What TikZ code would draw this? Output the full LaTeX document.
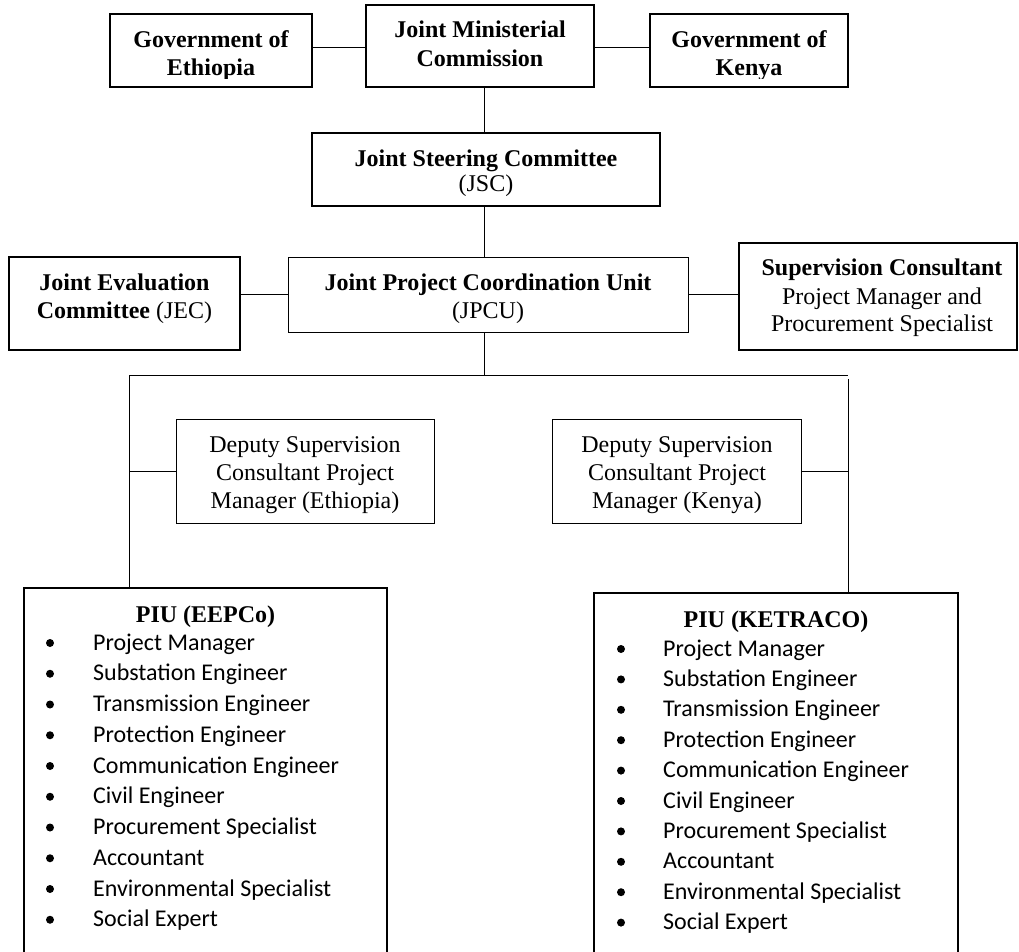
\documentclass[tikz,border=0pt]{standalone}
\usepackage{fontspec}
\setmainfont{Liberation Serif}
\newfontfamily\itemfont{Carlito}
\begin{document}
\begin{tikzpicture}[x=1pt,y=-1pt,
  thickbox/.style={draw, line width=2.4pt, inner sep=0pt, outer sep=0pt},
  thinbox/.style={draw, line width=1pt, inner sep=0pt, outer sep=0pt},
  conn/.style={line width=1pt},
  txt/.style={inner sep=0pt, anchor=base, font=\fontsize{24}{27.6}\selectfont},
  btxt/.style={inner sep=0pt, anchor=base, font=\fontsize{24}{27.6}\selectfont\bfseries},
  itemtxt/.style={inner sep=0pt, anchor=base west, font=\itemfont\fontsize{24}{29}\selectfont},
  bul/.style={circle, fill=black, inner sep=0pt, minimum size=8pt},
]
\useasboundingbox (0,0) rectangle (1019,952);
\clip (0,0) rectangle (1019,952);

% boxes
\node[thickbox, minimum width=202pt, minimum height=73pt] (govE) at (211,50.5) {};
\node[thickbox, minimum width=228pt, minimum height=82pt] (jmc) at (480,46) {};
\node[thickbox, minimum width=198pt, minimum height=73pt] (govK) at (749,50.5) {};
\node[thickbox, minimum width=348pt, minimum height=73pt] (jsc) at (486,169.5) {};
\node[thinbox, minimum width=400pt, minimum height=75pt] (jpcu) at (488,294.5) {};
\node[thickbox, minimum width=231pt, minimum height=93pt] (jec) at (124.5,303.5) {};
\node[thickbox, minimum width=278pt, minimum height=107pt] (sc) at (878,296.5) {};
\node[thinbox, minimum width=258pt, minimum height=104pt] (depE) at (305,471) {};
\node[thinbox, minimum width=249pt, minimum height=104pt] (depK) at (676.5,471) {};
\node[thickbox, minimum width=363pt, minimum height=366pt] (piuE) at (205.5,771) {};
\node[thickbox, minimum width=364pt, minimum height=361pt] (piuK) at (776,773.5) {};

% connectors
\coordinate (sp) at (484,0);
\coordinate (busL) at (129,375);
\coordinate (busR) at (848,375);
\coordinate (busR2) at (848,379);
\draw[conn] ([yshift=2.5pt]govE.east) -- ([yshift=2.5pt]govE.east -| jmc.west);
\draw[conn] ([yshift=2.5pt]govK.west) -- ([yshift=2.5pt]govK.west -| jmc.east);
\draw[conn] (sp |- jmc.south) -- (sp |- jsc.north);
\draw[conn] (sp |- jsc.south) -- (sp |- jpcu.north);
\draw[conn] (jpcu.west) -- (jpcu.west -| jec.east);
\draw[conn] (jpcu.east) -- (jpcu.east -| sc.west);
\draw[conn] (sp |- jpcu.south) -- (sp |- busL);
\draw[conn] (busL) -- (busR);
\draw[conn] (busL) -- (busL |- piuE.north);
\draw[conn] (busR2) -- (busR2 |- piuK.north);
\draw[conn] (depE.west) -- (depE.west -| busL);
\draw[conn] (depK.east) -- (depK.east -| busR);

% texts
\begin{scope}
\clip (110,14) rectangle (312,79);
\node[btxt] (tGovE1) at (211,48) {Government of};
\node[btxt] (tGovE2) at (211,76) {Ethiopia};
\end{scope}
\node[btxt] (tJmc1) at (480,38) {Joint Ministerial};
\node[btxt] (tJmc2) at (480,67) {Commission};
\begin{scope}
\clip (650,14) rectangle (848,79);
\node[btxt] (tGovK1) at (749,48) {Government of};
\node[btxt] (tGovK2) at (749,76) {Kenya};
\end{scope}
\begin{scope}
\clip (312,133) rectangle (660,195);
\node[btxt] (tJsc1) at (486,167) {Joint Steering Committee};
\node[txt] (tJsc2) at (486,192) {(JSC)};
\end{scope}
\node[btxt] (tJpcu1) at (488,290) {Joint Project Coordination Unit};
\node[txt] (tJpcu2) at (488,318) {(JPCU)};
\node[btxt] (tJec1) at (124.5,290) {Joint Evaluation};
\node[txt] (tJec2) at (124.5,318) {\textbf{Committee} (JEC)};
\node[btxt] (tSc1) at (882,275) {Supervision Consultant};
\node[txt] (tSc2) at (882,304) {Project Manager and};
\node[txt] (tSc3) at (882,331) {Procurement Specialist};
\node[txt] (tDepE1) at (305,452) {Deputy Supervision};
\node[txt] (tDepE2) at (305,480) {Consultant Project};
\node[txt] (tDepE3) at (305,508) {Manager (Ethiopia)};
\node[txt] (tDepK1) at (677,452) {Deputy Supervision};
\node[txt] (tDepK2) at (677,480) {Consultant Project};
\node[txt] (tDepK3) at (677,508) {Manager (Kenya)};
\node[btxt] (tPiuE) at (205.5,622) {PIU (EEPCo)};
\node[btxt] (tPiuK) at (776,627) {PIU (KETRACO)};
\foreach \t [count=\i from 0] in {Project Manager, Substation Engineer, Transmission Engineer, Protection Engineer, Communication Engineer, Civil Engineer, Procurement Specialist, Accountant, Environmental Specialist, Social Expert} {
  \node[bul] (bE\i) at (50,643+30.75*\i) {};
  \node[itemtxt] (iE\i) at (93,650+30.75*\i) {\t};
  \node[bul] (bK\i) at (621,649+30.4*\i) {};
  \node[itemtxt] (iK\i) at (663,656+30.4*\i) {\t};
}
\end{tikzpicture}
\end{document}
